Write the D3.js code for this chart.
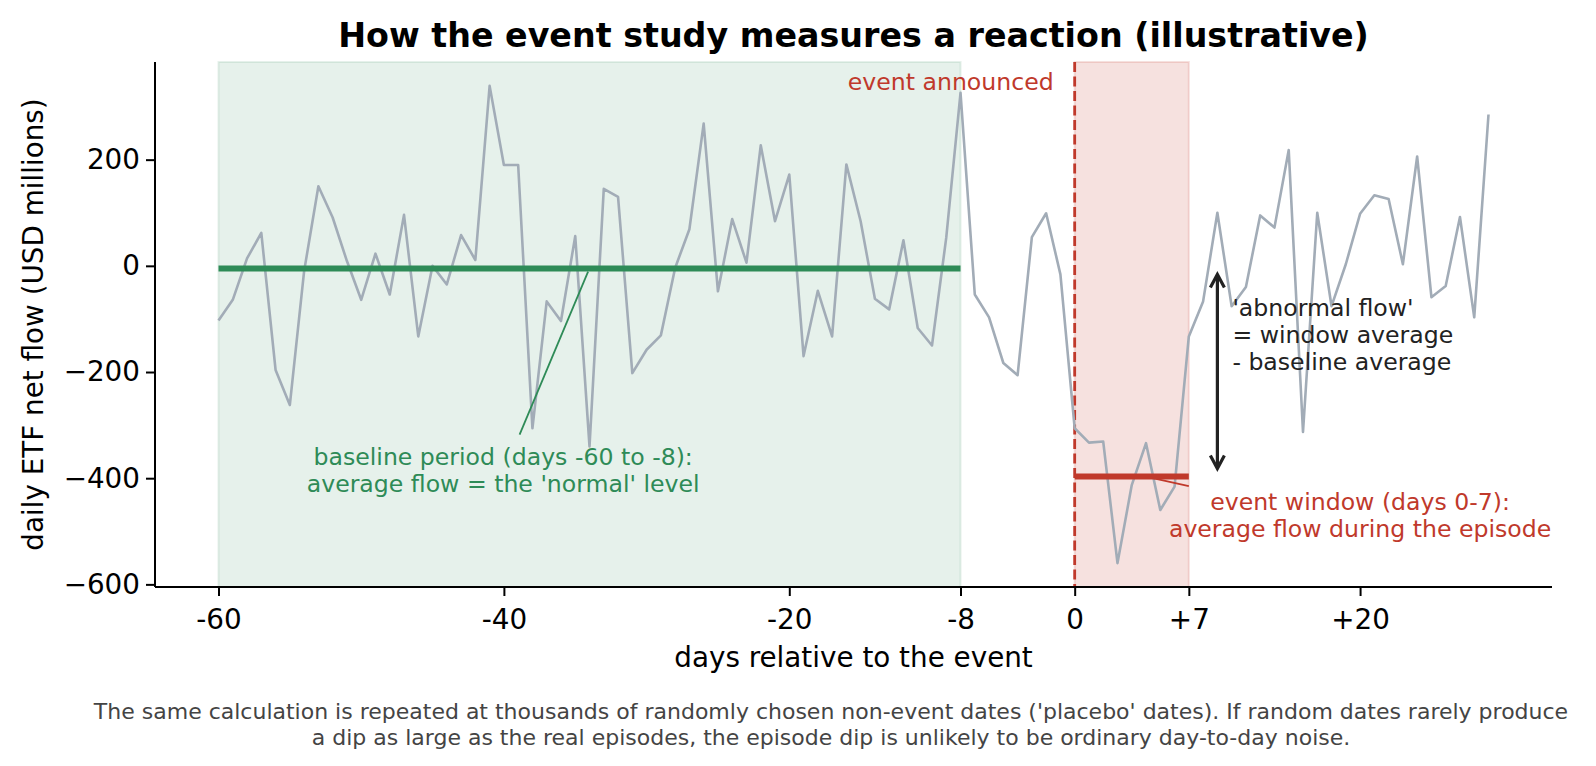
<!DOCTYPE html>
<html><head><meta charset="utf-8">
<script src="https://cdn.jsdelivr.net/npm/d3@7"></script>
<style>
html,body{margin:0;padding:0;background:#fff;}
svg text{font-family:"DejaVu Sans",sans-serif;}
</style></head>
<body><svg id="c" width="1596" height="766"></svg>
<script>
// ---- data ----
const days = d3.range(-60, 30);
const flows = [
 -103,-64,14,62,-196,-262,-10,150,91,9,
 -64,23,-54,96,-133,0,-35,58,11,339,
 190,190,-306,-67,-104,56,-340,145,130,-202,
 -158,-131,-4,69,268,-48,88,6,227,84,
 172,-170,-47,-133,191,84,-62,-82,48,-117,
 -150,53,326,-54,-97,-183,-206,54,99,-16,
 -306,-333,-331,-560,-413,-334,-460,-416,-133,-67,
 100,-76,-40,95,72,218,-313,100,-76,3,
 98,133,126,3,206,-59,-38,92,-97,285
];
const baselineSpan = [-60, -8];
const windowSpan = [0, 8];
const baselineAvg = -5;
const windowAvg = -397;
const xTickVals = [-60, -40, -20, -8, 0, 8, 20];
const xTickLabels = ["-60", "-40", "-20", "-8", "0", "+7", "+20"];
const yTickVals = [-600, -400, -200, 0, 200];

const svg = d3.select("#c");
const L = 155, R = 1552, T = 62, B = 587;

const xExt = d3.extent(days), yExt = d3.extent(flows);
const xPad = (xExt[1] - xExt[0]) * 0.05, yPad = (yExt[1] - yExt[0]) * 0.05;
const x = d3.scaleLinear().domain([xExt[0] - xPad, xExt[1] + xPad]).range([L, R]);
const y = d3.scaleLinear().domain([yExt[0] - yPad, yExt[1] + yPad]).range([B, T]);

const green = "#2e8b57", red = "#c0392b";

// spans
svg.append("rect").attr("x", x(baselineSpan[0])).attr("width", x(baselineSpan[1]) - x(baselineSpan[0]))
  .attr("y", T).attr("height", B - T).attr("fill", green).attr("fill-opacity", 0.12)
  .attr("stroke", green).attr("stroke-opacity", 0.12).attr("stroke-width", 2);
svg.append("rect").attr("x", x(windowSpan[0])).attr("width", x(windowSpan[1]) - x(windowSpan[0]))
  .attr("y", T).attr("height", B - T).attr("fill", red).attr("fill-opacity", 0.15)
  .attr("stroke", red).attr("stroke-opacity", 0.15).attr("stroke-width", 2);

// event line
svg.append("line").attr("x1", x(0)).attr("x2", x(0)).attr("y1", T).attr("y2", B)
  .attr("stroke", red).attr("stroke-width", 2.8).attr("stroke-dasharray", "10,4.5");

// flow line
const line = d3.line().x((d, i) => x(days[i])).y(d => y(d));
svg.append("path").datum(flows).attr("d", line).attr("fill", "none")
  .attr("stroke", "#a2acb7").attr("stroke-width", 2.6).attr("stroke-linejoin", "round");

// averages
svg.append("line").attr("x1", x(baselineSpan[0])).attr("x2", x(baselineSpan[1]))
  .attr("y1", y(baselineAvg)).attr("y2", y(baselineAvg)).attr("stroke", green).attr("stroke-width", 6);
svg.append("line").attr("x1", x(windowSpan[0])).attr("x2", x(windowSpan[1]))
  .attr("y1", y(windowAvg)).attr("y2", y(windowAvg)).attr("stroke", red).attr("stroke-width", 6);

// axes
const xAxis = d3.axisBottom(x).tickValues(xTickVals).tickFormat((d, i) => xTickLabels[i]).tickSize(9).tickPadding(13);
const yAxis = d3.axisLeft(y).tickValues(yTickVals).tickFormat(d => d < 0 ? "\u2212" + Math.abs(d) : String(d)).tickSize(9).tickPadding(6);
const gx = svg.append("g").attr("transform", `translate(0,${B})`).call(xAxis);
const gy = svg.append("g").attr("transform", `translate(${L},0)`).call(yAxis);
[gx, gy].forEach(g => {
  g.select(".domain").attr("stroke", "#000").attr("stroke-width", 2);
  g.selectAll(".tick line").attr("stroke", "#000").attr("stroke-width", 2);
  g.selectAll(".tick text").attr("fill", "#000").style("font-size", "27.8px").style("font-family", "DejaVu Sans");
});
gx.select(".domain").attr("d", `M${L},0H${R}`);
gy.select(".domain").attr("d", `M0,${B}V${T}`);

// labels
svg.append("text").attr("x", (L + R) / 2).attr("y", 47).attr("text-anchor", "middle")
  .style("font-size", "33.3px").style("font-weight", "bold").text("How the event study measures a reaction (illustrative)");
svg.append("text").attr("x", (L + R) / 2).attr("y", 667).attr("text-anchor", "middle")
  .style("font-size", "27.8px").text("days relative to the event");
svg.append("text").attr("transform", `translate(43,${(T + B) / 2}) rotate(-90)`).attr("text-anchor", "middle")
  .style("font-size", "27.8px").text("daily ETF net flow (USD millions)");

// annotations
svg.append("text").attr("x", x(0) - 21).attr("y", 90).attr("text-anchor", "end").attr("fill", red)
  .style("font-size", "23.6px").text("event announced");

svg.append("line").attr("x1", x(-38.9)).attr("y1", y(-318)).attr("x2", x(-34.1)).attr("y2", y(baselineAvg - 6))
  .attr("stroke", green).attr("stroke-width", 1.8);
const gt = svg.append("text").attr("text-anchor", "middle").attr("fill", green).style("font-size", "23.6px");
gt.append("tspan").attr("x", x(-40.05)).attr("y", 464.5).text("baseline period (days -60 to -8):");
gt.append("tspan").attr("x", x(-40.05)).attr("y", 491.5).text("average flow = the 'normal' level");

svg.append("line").attr("x1", x(8)).attr("y1", y(-415)).attr("x2", x(5)).attr("y2", y(windowAvg))
  .attr("stroke", red).attr("stroke-width", 1.8);
const rt = svg.append("text").attr("text-anchor", "middle").attr("fill", red).style("font-size", "23.6px");
rt.append("tspan").attr("x", x(20)).attr("y", 509.5).text("event window (days 0-7):");
rt.append("tspan").attr("x", x(20)).attr("y", 537).text("average flow during the episode");

// double arrow
const ax = x(10), ay1 = y(baselineAvg) + 6, ay2 = y(windowAvg) - 8;
svg.append("line").attr("x1", ax).attr("x2", ax).attr("y1", ay1 + 2).attr("y2", ay2 - 2)
  .attr("stroke", "#222").attr("stroke-width", 3.2);
svg.append("path").attr("d", `M${ax - 7},${ay1 + 13}L${ax},${ay1}L${ax + 7},${ay1 + 13}`)
  .attr("fill", "none").attr("stroke", "#222").attr("stroke-width", 3.2);
svg.append("path").attr("d", `M${ax - 7},${ay2 - 13}L${ax},${ay2}L${ax + 7},${ay2 - 13}`)
  .attr("fill", "none").attr("stroke", "#222").attr("stroke-width", 3.2);
const bt = svg.append("text").attr("fill", "#222").style("font-size", "23.6px");
["'abnormal flow'", "= window average", "- baseline average"].forEach((s, i) =>
  bt.append("tspan").attr("x", ax + 15).attr("y", 315.5 + i * 27.2).text(s));

// footnote
const ft = svg.append("text").attr("text-anchor", "middle").attr("fill", "#444").style("font-size", "22px");
ft.append("tspan").attr("x", 831).attr("y", 718.5).text("The same calculation is repeated at thousands of randomly chosen non-event dates ('placebo' dates). If random dates rarely produce");
ft.append("tspan").attr("x", 831).attr("y", 745).text("a dip as large as the real episodes, the episode dip is unlikely to be ordinary day-to-day noise.");
</script></body></html>
